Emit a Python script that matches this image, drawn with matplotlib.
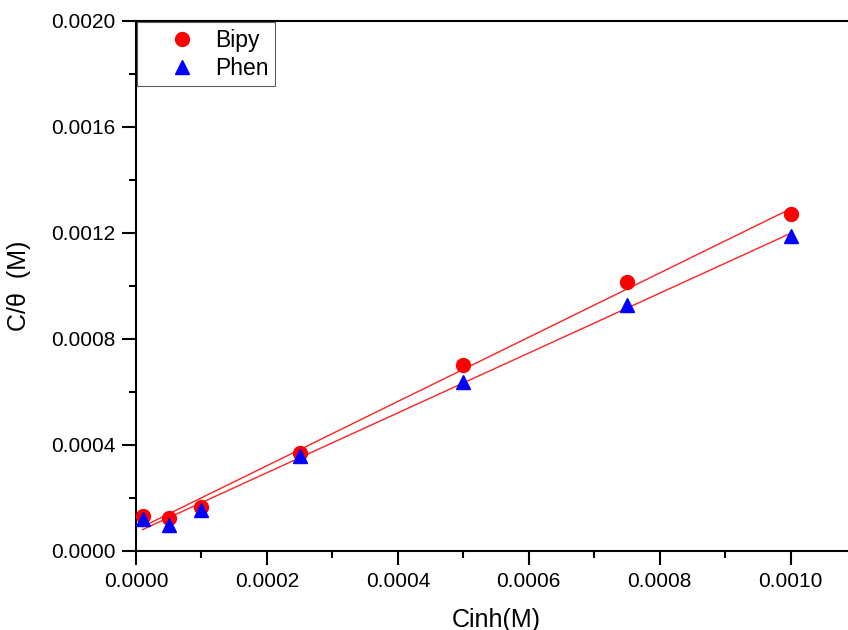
import numpy as np
import matplotlib
matplotlib.use("Agg")
import matplotlib.pyplot as plt
from matplotlib.ticker import MultipleLocator, FormatStrFormatter

plt.rcParams['font.family'] = ['Liberation Sans', 'DejaVu Sans']

conc = [0.00001, 0.00005, 0.0001, 0.00025, 0.0005, 0.00075, 0.001]
bipy = [0.000132, 0.000125, 0.000166, 0.000370, 0.000702, 0.001015, 0.00127]
phen = [0.000121, 0.000100, 0.000155, 0.000358, 0.000638, 0.000928, 0.00119]

fig = plt.figure(figsize=(8.48, 6.3), dpi=100)
ax = fig.add_axes([136/848, 79/630, 720/848, 530/630])

x = np.array(conc)
for ys in (bipy, phen):
    k, b = np.polyfit(x, ys, 1)
    ax.plot([x.min(), x.max()], [k*x.min()+b, k*x.max()+b], color='#ff2020', lw=1.0, zorder=2)

ax.plot(conc, bipy, 'o', color='#ff0000', ms=10, label='Bipy', zorder=3)
ax.plot(conc, phen, '^', color='#0000ff', ms=10, label='Phen', zorder=4)

ax.set_xlim(0, 0.0011)
ax.set_ylim(0, 0.002)
ax.xaxis.set_major_locator(MultipleLocator(0.0002))
ax.xaxis.set_minor_locator(MultipleLocator(0.0001))
ax.yaxis.set_major_locator(MultipleLocator(0.0004))
ax.yaxis.set_minor_locator(MultipleLocator(0.0002))
ax.xaxis.set_major_formatter(FormatStrFormatter('%.4f'))
ax.yaxis.set_major_formatter(FormatStrFormatter('%.4f'))
ax.tick_params(which='major', direction='out', length=10, width=1.5, labelsize=15, pad=5)
ax.tick_params(which='minor', direction='out', length=5, width=1.5)
for s in ax.spines.values():
    s.set_linewidth(1.5)

ax.set_xlabel('Cinh(M)', fontsize=18, labelpad=12)
ax.set_ylabel('C/\u03b8  (M)', fontsize=18, labelpad=14)

leg = ax.legend(loc='upper left', fontsize=16.5, frameon=True, fancybox=False,
                borderaxespad=0.05, handletextpad=-0.2, borderpad=0.3, labelspacing=0.2,
                handlelength=3.3)
leg.get_frame().set_edgecolor('#333333')
leg.get_frame().set_linewidth(0.8)

fig.savefig('out.png', dpi=100)
